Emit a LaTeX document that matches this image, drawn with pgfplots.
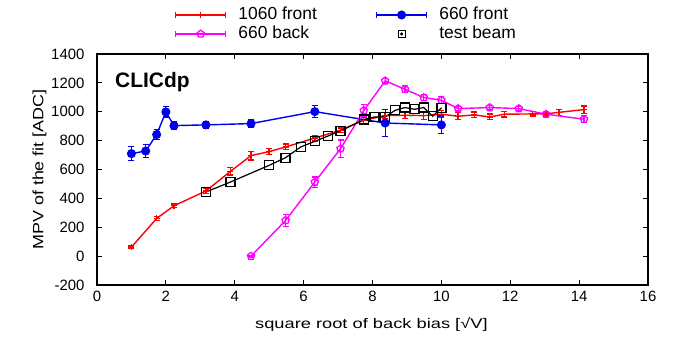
\documentclass[border=0pt]{standalone}
\usepackage{fontspec}
\setmainfont{Liberation Sans}
\usepackage{pgfplots}
\usepackage{pgfplotstable}
\pgfplotsset{compat=1.18}
\definecolor{cred}{RGB}{255,0,0}
\definecolor{cblue}{RGB}{0,0,235}
\definecolor{cmag}{RGB}{255,0,255}
\pgfplotstableread{
x y e
1 62 10
1.732 261 12
2.236 349 12
3.162 451 15
3.873 587 25
4.472 696 30
5 724 20
5.477 756 20
6.325 818 20
7.071 872 15
7.746 941 20
8.367 973 20
8.944 976 25
9.487 973 25
10 983 25
10.488 969 25
10.954 978 20
11.402 964 20
11.832 983 20
12.649 985 15
13.038 985 15
13.416 996 20
14.142 1015 25
}\redtab
\pgfplotstableread{
x y e
1 710 50
1.414 728 45
1.732 842 35
2 999 35
2.236 904 25
3.162 909 25
4.472 918 25
6.325 1001 40
8.367 922 95
10 909 62
}\bluetab
\pgfplotstableread{
x y e
4.472 0 6
5.477 247 40
6.325 513 35
7.071 744 60
7.746 1008 40
8.367 1214 15
8.944 1156 25
9.487 1098 20
10 1080 25
10.488 1022 15
11.402 1029 15
12.247 1022 15
13.038 983 15
14.142 948 25
}\magtab
\pgfplotstableread{
x y
3.162 444
3.873 513
5 629
5.477 682
5.916 756
6.325 795
6.708 832
7.071 867
7.746 946
8.062 964
8.367 964
8.660 1010
8.944 1029
9.220 1017
9.487 1029
9.747 969
10 1027
}\blacktab
\begin{document}
\begin{tikzpicture}
\begin{axis}[
  name=ax,
  scale only axis,
  width=551bp, height=231bp,
  xmin=0, xmax=16, ymin=-200, ymax=1400,
  xtick={0,2,...,16}, ytick={-200,0,...,1400},
  tick align=inside, tick pos=both,
  major tick length=5bp,
  axis line style={line width=2.5bp},
  tick style={line width=0.8bp, black},
  /pgf/number format/assume math mode=true,
  /pgf/number format/set thousands separator={},
  ticklabel style={font=\fontsize{15}{17}\selectfont},
  yticklabel style={xshift=-9bp},
  xticklabel style={yshift=-3bp},
  xlabel={\scalebox{1.31}[1]{square root of back bias [√V]}},
  ylabel={\scalebox{1.2}[1]{MPV of the fit [ADC]}},
  xlabel style={font=\fontsize{14}{16}\selectfont, at={([yshift=-43bp]rel axis cs:0.498,0)}, anchor=base},
  ylabel style={font=\fontsize{15}{16}\selectfont, at={([xshift=-53.7bp]rel axis cs:0,0.5)}, anchor=base},
  legend columns=2,
  legend style={draw=none, fill=none, at={(0.1416,1.0)}, anchor=south west, yshift=12bp,
    inner sep=0pt, outer sep=0pt,
    font=\fontsize{17.5}{18}\selectfont, row sep=3bp,
    nodes={inner xsep=0pt, inner ysep=0pt, text height=12.5bp, text depth=3.5bp},
    /tikz/every odd column/.append style={column sep=12bp},
    /tikz/every even column/.append style={column sep=59bp}},
  legend cell align=left,
  legend image code/.code={
    \draw[#1, mark=none] (0bp,0bp) -- (50bp,0bp);
    \draw[#1, mark=none] (0bp,-3bp) -- (0bp,3bp);
    \draw[#1, mark=none] (50bp,-3bp) -- (50bp,3bp);
    \draw[#1] plot coordinates {(25bp,0bp)};
  },
  error bars/error bar style={line width=1.2bp},
  error bars/error mark options={rotate=90, mark size=3bp, line width=1.2bp},
]
\addplot[cred, line width=1.4bp, mark=+, mark size=3bp,
  error bars/.cd, y dir=both, y explicit]
  table[x=x, y=y, y error=e] {\redtab};
\addlegendentry{1060 front}
\addplot[cblue, line width=1.4bp, mark=*, mark size=3.8bp,
  error bars/.cd, y dir=both, y explicit]
  table[x=x, y=y, y error=e] {\bluetab};
\addlegendentry{660 front}
\addplot[cmag, line width=1.4bp, mark=pentagon, mark size=3.8bp, mark options={line width=1.3bp},
  error bars/.cd, y dir=both, y explicit]
  table[x=x, y=y, y error=e] {\magtab};
\addlegendentry{660 back}
\addplot[black, line width=1.2bp, mark=square, mark size=4.5bp, mark options={line width=1.3bp},
  legend image code/.code={\draw[black, line width=1.1bp] (21.5bp,-3.5bp) rectangle (28.5bp,3.5bp); \fill[black] (25bp,0bp) circle (1bp); \path[draw=none, fill=none] (0bp,0bp) rectangle (50bp,0.1bp);}]
  table[x=x, y=y] {\blacktab};
\addlegendentry{test beam}
\node[anchor=base west, inner sep=0pt, font=\bfseries\fontsize{21}{22}\selectfont] at (rel axis cs:0.0327,0.857) {CLICdp};
\end{axis}
\path ([shift={(-97bp,-53bp)}]ax.south west) rectangle ([shift={(33bp,54bp)}]ax.north east);
\end{tikzpicture}
\end{document}
